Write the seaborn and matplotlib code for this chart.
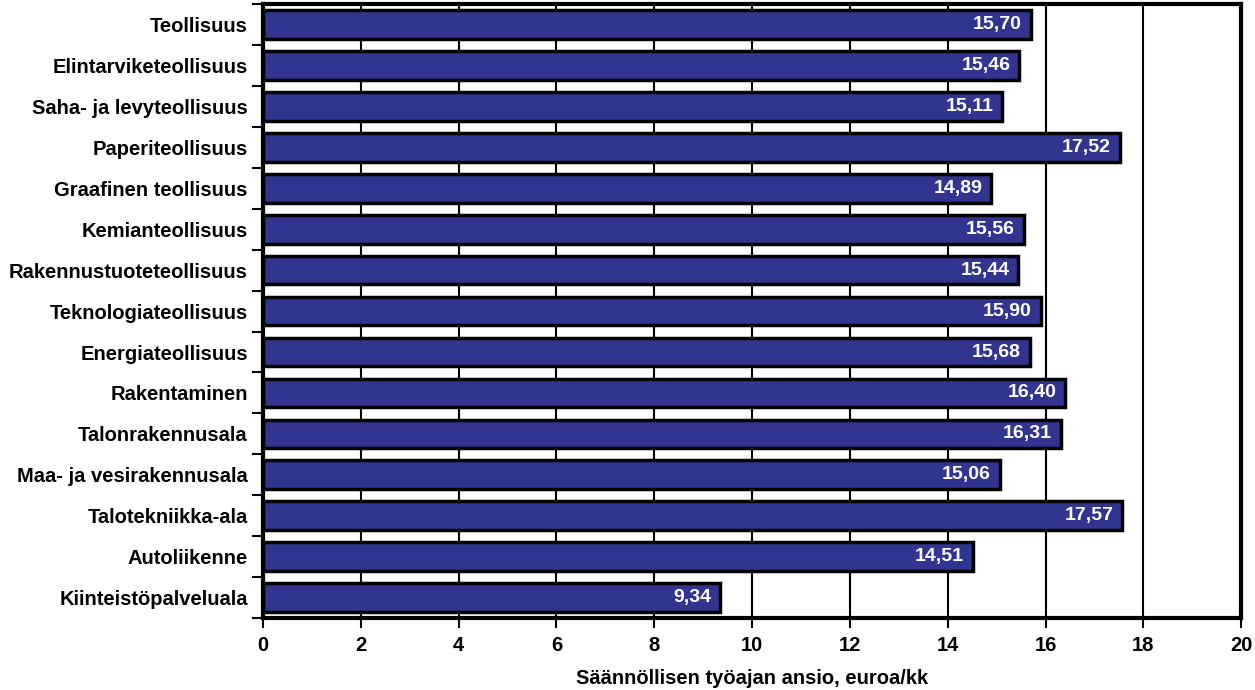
import numpy as np
import pandas as pd
import seaborn as sns
import matplotlib.pyplot as plt
from matplotlib.ticker import FixedLocator

categories = ['Teollisuus', 'Elintarviketeollisuus', 'Saha- ja levyteollisuus',
              'Paperiteollisuus', 'Graafinen teollisuus', 'Kemianteollisuus',
              'Rakennustuoteteollisuus', 'Teknologiateollisuus', 'Energiateollisuus',
              'Rakentaminen', 'Talonrakennusala', 'Maa- ja vesirakennusala',
              'Talotekniikka-ala', 'Autoliikenne', 'Kiinteistöpalveluala']
values = [15.70, 15.46, 15.11, 17.52, 14.89, 15.56, 15.44, 15.90, 15.68,
          16.40, 16.31, 15.06, 17.57, 14.51, 9.34]
xticks = [0, 2, 4, 6, 8, 10, 12, 14, 16, 18, 20]

df = pd.DataFrame({'ala': categories, 'ansio': values})

sns.set_style('white')
plt.rcParams['font.family'] = ['Liberation Sans', 'DejaVu Sans']
plt.rcParams['font.weight'] = 'bold'
plt.rcParams['text.color'] = 'black'
plt.rcParams['xtick.color'] = 'black'
plt.rcParams['ytick.color'] = 'black'
plt.rcParams['axes.labelcolor'] = 'black'

fig = plt.figure(figsize=(12.55, 6.9), dpi=100)
ax = fig.add_axes([0.2096, 0.1043, 0.7794, 0.8897])

ax.set_axisbelow(True)
ax.xaxis.grid(True, color='black', linewidth=1.5)
sns.barplot(data=df, x='ansio', y='ala', orient='h', color='#31358f',
            saturation=1, edgecolor='black', linewidth=2.5, width=0.7, ax=ax)

for p, v in zip(ax.patches, values):
    ax.text(p.get_width() - 0.18, p.get_y() + p.get_height() / 2,
            f'{v:.2f}'.replace('.', ','), color='white', fontsize=14,
            fontweight='bold', ha='right', va='center')

ax.set_xlim(0, 20)
ax.set_ylim(len(categories) - 0.5, -0.5)
ax.set_xticks(xticks)
ax.set_xticklabels([str(t) for t in xticks], fontsize=14.5, fontweight='bold')
ax.set_xlabel('Säännöllisen työajan ansio, euroa/kk', fontsize=14.5, fontweight='bold', labelpad=10)
ax.set_ylabel('')
ax.tick_params(axis='x', direction='out', length=7, width=1.5, pad=6, bottom=True)
ax.tick_params(axis='y', which='major', length=0, pad=11, labelsize=14.5)
ax.yaxis.set_minor_locator(FixedLocator(np.arange(-0.5, len(categories), 1)))
ax.tick_params(axis='y', which='minor', direction='out', length=8, width=1.5, left=True)
for lab in ax.get_yticklabels():
    lab.set_fontweight('bold')

for s in ax.spines.values():
    s.set_visible(True)
    s.set_color('black')
    s.set_linewidth(3)

fig.savefig('out.png', dpi=100)
